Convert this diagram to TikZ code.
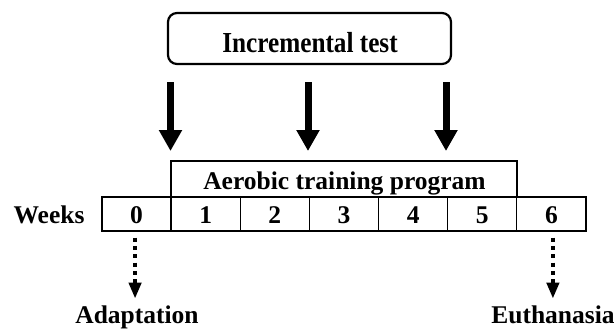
\documentclass[tikz,border=0pt]{standalone}
\usepackage{fontspec}
\setmainfont{Liberation Serif}
\usetikzlibrary{arrows.meta,calc}
\begin{document}
\begin{tikzpicture}[x=1pt,y=-1pt,
  lbl/.style={font=\fontsize{25.5}{30}\selectfont\bfseries, inner sep=0pt},
  testbox/.style={draw, line width=2.2pt, rounded corners=9pt, minimum width=283pt, minimum height=51pt, inner sep=0pt},
  progbox/.style={draw, line width=2pt, minimum width=346pt, minimum height=36pt, inner sep=0pt},
  weekcell/.style={draw, line width=1.3pt, minimum width=69.14pt, minimum height=34pt, inner sep=0pt},
  bigarrow/.style={line width=7pt, -{Triangle[width=22pt,length=21pt]}},
  dotarrow/.style={line width=4pt, dash pattern=on 4pt off 4.3pt, -{Triangle[width=12pt,length=16pt]}}
]
\useasboundingbox (0,0) rectangle (614,330);

% incremental test box and the three test arrows
\node[testbox] (inc) at (309.5,38.5) {};
\node[inner sep=0pt, anchor=base] (inctxt) at (310,52)
  {\scalebox{0.87}[1]{\fontsize{29}{34}\selectfont\bfseries Incremental test}};
\foreach \i/\x in {1/170.5,2/308,3/446}{
  \coordinate (a\i s) at (\x,82);
  \coordinate (a\i e) at (\x,151);
  \draw[bigarrow] (a\i s) -- (a\i e);
}

% week cells
\foreach \w in {0,...,6}{
  \node[weekcell] (c\w) at ({102+69.14*(\w+0.5)},214) {};
  \node[lbl, anchor=base] (t\w) at ({102+69.14*(\w+0.5)},223) {\w};
}
\node[lbl, anchor=base] (weeks) at (49,223) {Weeks};

% training program bracket box over weeks 1-5
\node[progbox] (prog) at (343.7,179) {};
\node[lbl, anchor=base] (progtxt) at (344.5,189.5) {Aerobic training program};

% dotted arrows to start and end events
\coordinate (d0s) at ($(c0.south)+(-1.5,6)$);
\coordinate (d0e) at ($(c0.south)+(-1.5,67)$);
\coordinate (d6s) at ($(c6.south)+(1.5,6)$);
\coordinate (d6e) at ($(c6.south)+(1.5,67)$);
\draw[dotarrow] (d0s) -- (d0e);
\draw[dotarrow] (d6s) -- (d6e);
\node[lbl, anchor=base] (adapt) at (137,323.5) {Adaptation};
\node[lbl, anchor=base] (euth) at (553,323.5) {Euthanasia};
\end{tikzpicture}
\end{document}
